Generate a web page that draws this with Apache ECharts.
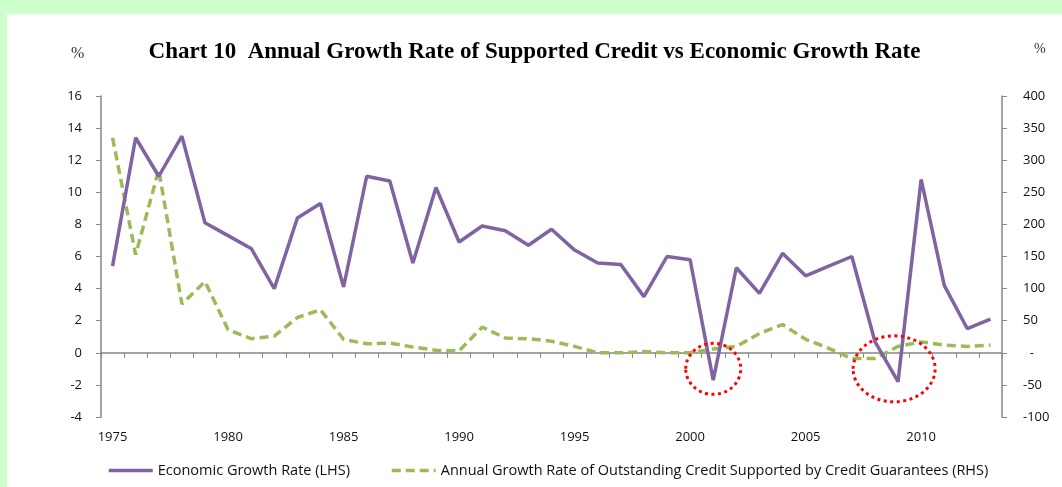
<!DOCTYPE html>
<html>
<head>
<meta charset="utf-8">
<script src="https://cdn.jsdelivr.net/npm/echarts@6/dist/echarts.min.js"></script>
<style>
  body { margin: 0; background: #ccffcc; }
  #chart { position: absolute; left: 7px; top: 14px; width: 1055px; height: 473px; background: #fff; }
</style>
</head>
<body>
<div id="chart"></div>
<script>
// data
const years = ["1975", "1976", "1977", "1978", "1979", "1980", "1981", "1982", "1983", "1984",
  "1985", "1986", "1987", "1988", "1989", "1990", "1991", "1992", "1993", "1994",
  "1995", "1996", "1997", "1998", "1999", "2000", "2001", "2002", "2003", "2004",
  "2005", "2006", "2007", "2008", "2009", "2010", "2011", "2012", "2013"];
const economicGrowth = [5.4, 13.4, 11.0, 13.5, 8.1, 7.3, 6.5, 4.0, 8.4, 9.3,
  4.1, 11.0, 10.7, 5.6, 10.3, 6.9, 7.9, 7.6, 6.7, 7.7,
  6.4, 5.6, 5.5, 3.5, 6.0, 5.8, -1.7, 5.3, 3.7, 6.2,
  4.8, 5.4, 6.0, 0.7, -1.8, 10.8, 4.2, 1.5, 2.1];
const creditGrowth = [335, 153, 285, 76, 111, 36, 22, 26, 55, 67,
  21, 14, 15, 9, 4, 3, 40, 23, 22, 18,
  10, 0, 0, 2, 0, 0, 6, 10, 30, 44,
  21, 7, -9, -9, 10, 17, 12, 10, 12];
const leftTicks = { min: -4, max: 16, step: 2 };
const rightTicks = { min: -100, max: 400, step: 50 };

const chartDom = document.getElementById("chart");
const myChart = echarts.init(chartDom);

const labelFont = { color: "#111", fontFamily: "Open Sans", fontSize: 13 };
const axisGray = "#868686";

const option = {
  animation: false,
  title: {
    text: "Chart 10  Annual Growth Rate of Supported Credit vs Economic Growth Rate",
    left: "center",
    top: 22,
    textStyle: { fontFamily: "Liberation Serif", fontWeight: "bold", fontSize: 23, color: "#000" }
  },
  legend: {
    left: 95,
    top: 444,
    itemWidth: 44,
    itemHeight: 14,
    itemGap: 40,
    itemStyle: { opacity: 0 },
    lineStyle: { width: 3.5 },
    textStyle: { color: "#111", fontFamily: "Open Sans", fontSize: 14.5 },
    data: ["Economic Growth Rate (LHS)", "Annual Growth Rate of Outstanding Credit Supported by Credit Guarantees (RHS)"]
  },
  grid: { left: 94, right: 60, top: 82, bottom: 70 },
  xAxis: [
    {
      type: "category",
      data: years,
      position: "bottom",
      axisLine: { show: false, onZero: false },
      axisTick: { show: false },
      axisLabel: Object.assign({ interval: 4, margin: 14 }, labelFont)
    },
    {
      type: "category",
      data: years,
      position: "bottom",
      axisLine: { show: true, onZero: true, onZeroAxisIndex: 0, lineStyle: { color: axisGray, width: 1.5 } },
      axisTick: { show: true, interval: 0, length: 5, lineStyle: { color: axisGray } },
      axisLabel: { show: false }
    }
  ],
  yAxis: [
    {
      type: "value",
      min: leftTicks.min,
      max: leftTicks.max,
      interval: leftTicks.step,
      splitLine: { show: false },
      axisLine: { show: true, lineStyle: { color: axisGray, width: 1.5 } },
      axisTick: { show: true, length: 5, lineStyle: { color: axisGray } },
      axisLabel: Object.assign({ margin: 19 }, labelFont)
    },
    {
      type: "value",
      position: "right",
      min: rightTicks.min,
      max: rightTicks.max,
      interval: rightTicks.step,
      splitLine: { show: false },
      axisLine: { show: true, lineStyle: { color: axisGray, width: 1.5 } },
      axisTick: { show: true, length: 5, lineStyle: { color: axisGray } },
      axisLabel: Object.assign({
        margin: 21,
        formatter: function (v) { return v === 0 ? "  -" : v; }
      }, labelFont)
    }
  ],
  series: [
    {
      name: "Economic Growth Rate (LHS)",
      type: "line",
      xAxisIndex: 0,
      yAxisIndex: 0,
      data: economicGrowth,
      showSymbol: false,
      symbol: "none",
      lineStyle: { color: "#8064a2", width: 3.5 },
      itemStyle: { color: "#8064a2" },
      z: 3
    },
    {
      name: "Annual Growth Rate of Outstanding Credit Supported by Credit Guarantees (RHS)",
      type: "line",
      xAxisIndex: 0,
      yAxisIndex: 1,
      data: creditGrowth,
      showSymbol: false,
      symbol: "none",
      lineStyle: { color: "#9bbb59", width: 3.5, type: [9, 5] },
      itemStyle: { color: "#9bbb59" },
      z: 2
    }
  ]
};

myChart.setOption(option);

// "%" unit labels and red dotted highlight circles
const toPx = (cat, v) => myChart.convertToPixel({ xAxisIndex: 0, yAxisIndex: 0 }, [cat, v]);
const c1 = toPx("2001", -1.0);
const p8 = toPx("2008", -1.0);
const p9 = toPx("2009", -1.0);
const c2x = p8[0] + 0.83 * (p9[0] - p8[0]);

const dotted = { fill: null, stroke: "#ff0000", lineWidth: 3, lineDash: [3, 3.5] };
myChart.setOption({
  graphic: [
    { type: "text", left: 64, top: 32, style: { text: "%", fontFamily: "Liberation Serif", fontSize: 16, fill: "#333" } },
    { type: "text", left: 1027, top: 28, style: { text: "%", fontFamily: "Liberation Serif", fontSize: 14, fill: "#333" } },
    { type: "ellipse", shape: { cx: c1[0], cy: c1[1], rx: 27.5, ry: 25.5 }, style: dotted, z: 10 },
    { type: "ellipse", shape: { cx: c2x, cy: p9[1], rx: 41, ry: 33 }, style: dotted, z: 10 }
  ]
});
</script>
</body>
</html>
